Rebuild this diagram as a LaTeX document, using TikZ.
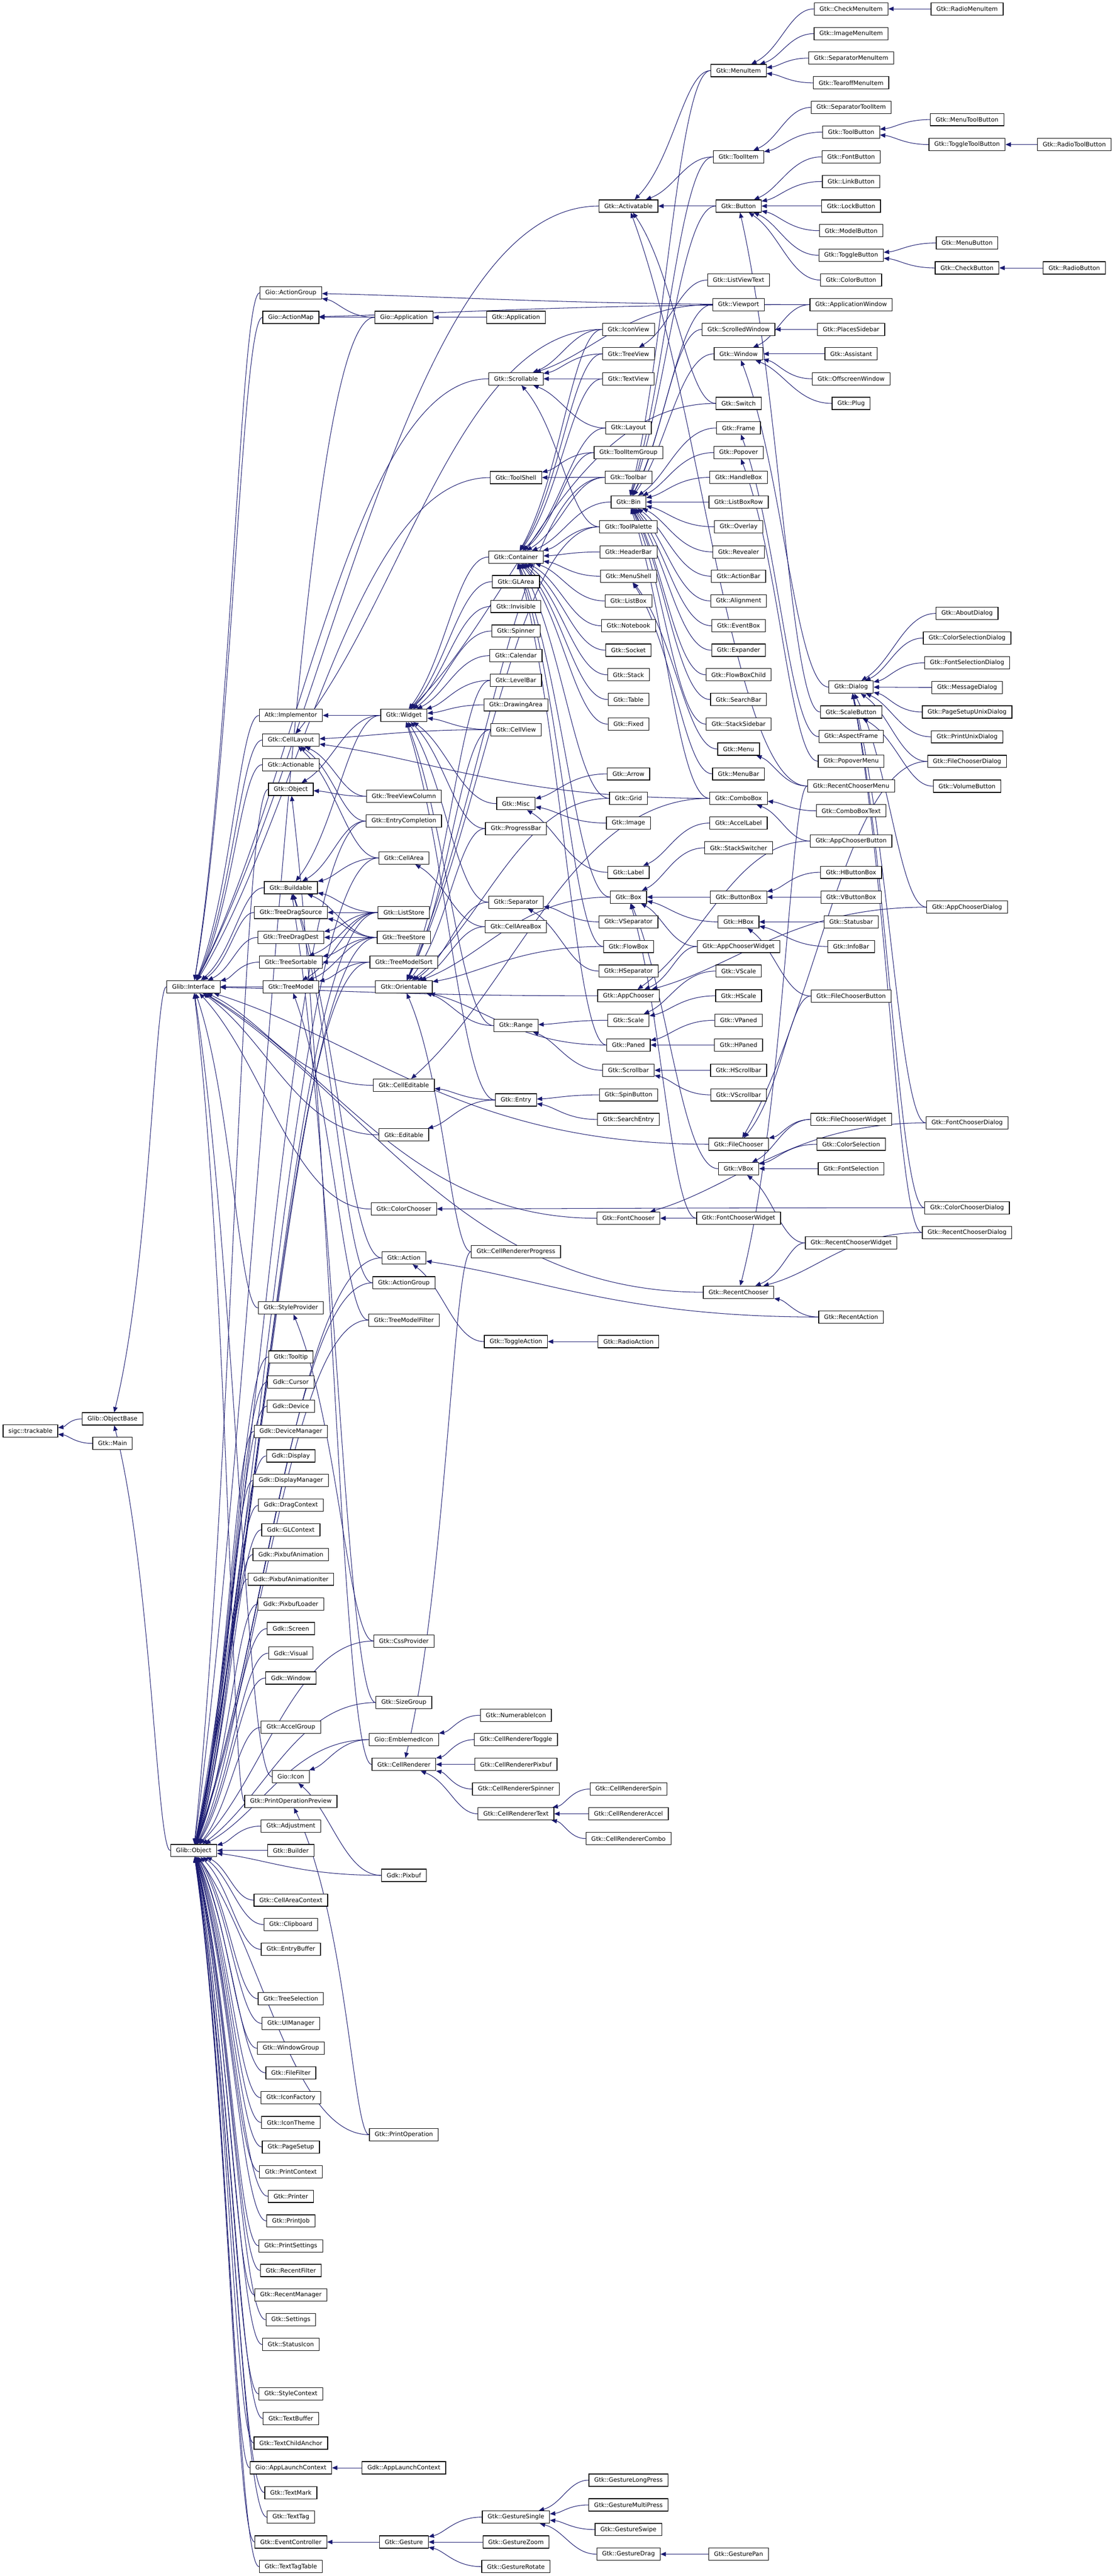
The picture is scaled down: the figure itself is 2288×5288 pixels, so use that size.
\documentclass[tikz,border=0pt]{standalone}
\usepackage{fontspec}
\setmainfont{DejaVu Sans}
\usetikzlibrary{arrows.meta,calc}
\pgfdeclarelayer{bg}
\pgfsetlayers{bg,main}
\definecolor{edgecol}{HTML}{191970}
\tikzset{
  cls/.style={draw=black, line width=1.3pt, fill=white, minimum height=25.3pt,
    inner xsep=11pt, inner ysep=0pt, text=black, font=\fontsize{12.3}{15}\selectfont},
  edge/.style={draw=edgecol, line width=1.1pt, -{Triangle[length=11pt,width=9pt]}}
}
\newcommand\mkN[4]{\node[cls] (#1) at (#2,#3) {#4};}
\newcommand\mkE[2]{\draw[edge] let \p1=(#1.west), \p2=(#2.east) in (#1) .. controls ({0.5*\x1+0.5*\x2},\y1) and ({\x2+0.3*(\x1-\x2)},{\y2+0.35*(\y1-\y2)}) .. (#2);}
\newcommand\mkEs[2]{\foreach \pp in {#2}{\mkE{#1}{\pp}}}
\newcommand\mkEc[2]{\foreach \cc in {#2}{\mkE{\cc}{#1}}}
\begin{document}
\begin{tikzpicture}[x=1pt,y=-1pt]
\useasboundingbox (0,0) rectangle (2288,5288);
% ---------- nodes ----------
\mkN{trackable}{62.5}{2937.8}{sigc::trackable}
\mkN{ObjectBase}{231}{2912.6}{Glib::ObjectBase}
\mkN{Main}{231}{2963}{Gtk::Main}
\mkN{Interface}{397}{2025.6}{Glib::Interface}
\mkN{GObject}{397.5}{3798.7}{Glib::Object}
% col3
\mkN{GioActionGroup}{597}{601.2}{Gio::ActionGroup}
\mkN{ActionMap}{597}{651.4}{Gio::ActionMap}
\mkN{Implementor}{597}{1468.6}{Atk::Implementor}
\mkN{CellLayout}{597}{1519.2}{Gtk::CellLayout}
\mkN{Actionable}{597}{1569.7}{Gtk::Actionable}
\mkN{GtkObject}{597}{1620.2}{Gtk::Object}
\mkN{Buildable}{597}{1822.2}{Gtk::Buildable}
\mkN{TreeDragSource}{597}{1873.1}{Gtk::TreeDragSource}
\mkN{TreeDragDest}{597}{1924.3}{Gtk::TreeDragDest}
\mkN{TreeSortable}{597}{1975.1}{Gtk::TreeSortable}
\mkN{TreeModel}{597}{2025.6}{Gtk::TreeModel}
\mkN{StyleProvider}{597}{2684.9}{Gtk::StyleProvider}
\mkN{Tooltip}{597}{2785.6}{Gtk::Tooltip}
\mkN{Cursor}{597}{2836.8}{Gdk::Cursor}
\mkN{Device}{597}{2886.6}{Gdk::Device}
\mkN{DeviceManager}{597}{2938.2}{Gdk::DeviceManager}
\mkN{Display}{597}{2988.7}{Gdk::Display}
\mkN{DisplayManager}{597}{3038.8}{Gdk::DisplayManager}
\mkN{DragContext}{597}{3090}{Gdk::DragContext}
\mkN{GLContext}{597}{3140.2}{Gdk::GLContext}
\mkN{PixbufAnimation}{597}{3191.1}{Gdk::PixbufAnimation}
\mkN{PixbufAnimationIter}{597}{3241.6}{Gdk::PixbufAnimationIter}
\mkN{PixbufLoader}{597}{3292.6}{Gdk::PixbufLoader}
\mkN{Screen}{597}{3343.1}{Gdk::Screen}
\mkN{Visual}{597}{3393.6}{Gdk::Visual}
\mkN{GdkWindow}{597}{3444.5}{Gdk::Window}
\mkN{AccelGroup}{597}{3545.8}{Gtk::AccelGroup}
\mkN{GioIcon}{597}{3647.2}{Gio::Icon}
\mkN{PrintOperationPreview}{597}{3697.7}{Gtk::PrintOperationPreview}
\mkN{Adjustment}{597}{3748.6}{Gtk::Adjustment}
\mkN{Builder}{597}{3798.7}{Gtk::Builder}
\mkN{CellAreaContext}{597}{3900.5}{Gtk::CellAreaContext}
\mkN{Clipboard}{597}{3950.6}{Gtk::Clipboard}
\mkN{EntryBuffer}{597}{4001.5}{Gtk::EntryBuffer}
\mkN{TreeSelection}{597}{4102.9}{Gtk::TreeSelection}
\mkN{UIManager}{597}{4153.7}{Gtk::UIManager}
\mkN{WindowGroup}{597}{4204.6}{Gtk::WindowGroup}
\mkN{FileFilter}{597}{4255.1}{Gtk::FileFilter}
\mkN{IconFactory}{597}{4306.2}{Gtk::IconFactory}
\mkN{IconTheme}{597}{4357.1}{Gtk::IconTheme}
\mkN{PageSetup}{597}{4407.2}{Gtk::PageSetup}
\mkN{PrintContext}{597}{4458.1}{Gtk::PrintContext}
\mkN{Printer}{597}{4508.6}{Gtk::Printer}
\mkN{PrintJob}{597}{4559.1}{Gtk::PrintJob}
\mkN{PrintSettings}{597}{4610.3}{Gtk::PrintSettings}
\mkN{RecentFilter}{597}{4660.8}{Gtk::RecentFilter}
\mkN{RecentManager}{597}{4711}{Gtk::RecentManager}
\mkN{Settings}{597}{4761.8}{Gtk::Settings}
\mkN{StatusIcon}{597}{4812.7}{Gtk::StatusIcon}
\mkN{StyleContext}{597}{4914.1}{Gtk::StyleContext}
\mkN{TextBuffer}{597}{4964.6}{Gtk::TextBuffer}
\mkN{TextChildAnchor}{597}{5015.1}{Gtk::TextChildAnchor}
\mkN{GioAppLaunchContext}{597}{5065.9}{Gio::AppLaunchContext}
\mkN{TextMark}{597}{5116.8}{Gtk::TextMark}
\mkN{TextTag}{597}{5167}{Gtk::TextTag}
\mkN{EventController}{597}{5218.2}{Gtk::EventController}
\mkN{TextTagTable}{597}{5268.7}{Gtk::TextTagTable}
% col4
\mkN{GioApplication}{829}{651.4}{Gio::Application}
\mkN{Widget}{829}{1468.6}{Gtk::Widget}
\mkN{TreeViewColumn}{829}{1634.6}{Gtk::TreeViewColumn}
\mkN{EntryCompletion}{829}{1685.4}{Gtk::EntryCompletion}
\mkN{CellArea}{829}{1761.2}{Gtk::CellArea}
\mkN{ListStore}{829}{1873.1}{Gtk::ListStore}
\mkN{TreeStore}{829}{1924.3}{Gtk::TreeStore}
\mkN{TreeModelSort}{829}{1975.1}{Gtk::TreeModelSort}
\mkN{Orientable}{829}{2025.6}{Gtk::Orientable}
\mkN{CellEditable}{829}{2227.9}{Gtk::CellEditable}
\mkN{Editable}{829}{2329.6}{Gtk::Editable}
\mkN{ColorChooser}{829}{2481.8}{Gtk::ColorChooser}
\mkN{Action}{829}{2582.1}{Gtk::Action}
\mkN{GtkActionGroup}{829}{2633.3}{Gtk::ActionGroup}
\mkN{TreeModelFilter}{829}{2709.8}{Gtk::TreeModelFilter}
\mkN{CssProvider}{829}{3368.7}{Gtk::CssProvider}
\mkN{SizeGroup}{829}{3495}{Gtk::SizeGroup}
\mkN{EmblemedIcon}{829}{3571.1}{Gio::EmblemedIcon}
\mkN{CellRenderer}{829}{3622}{Gtk::CellRenderer}
\mkN{Pixbuf}{829}{3849.6}{Gdk::Pixbuf}
\mkN{PrintOperation}{829}{4382}{Gtk::PrintOperation}
\mkN{GdkAppLaunchContext}{829}{5065.9}{Gdk::AppLaunchContext}
\mkN{Gesture}{829}{5218.2}{Gtk::Gesture}
% col5
\mkN{GtkApplication}{1059}{651.4}{Gtk::Application}
\mkN{Scrollable}{1059}{777.6}{Gtk::Scrollable}
\mkN{ToolShell}{1059}{980.4}{Gtk::ToolShell}
\mkN{Container}{1059}{1143.5}{Gtk::Container}
\mkN{GLArea}{1059}{1194}{Gtk::GLArea}
\mkN{Invisible}{1059}{1244.9}{Gtk::Invisible}
\mkN{Spinner}{1059}{1295.4}{Gtk::Spinner}
\mkN{Calendar}{1059}{1345.9}{Gtk::Calendar}
\mkN{LevelBar}{1059}{1396.7}{Gtk::LevelBar}
\mkN{DrawingArea}{1059}{1446.9}{Gtk::DrawingArea}
\mkN{CellView}{1059}{1497.8}{Gtk::CellView}
\mkN{Misc}{1059}{1649.6}{Gtk::Misc}
\mkN{ProgressBar}{1059}{1700.8}{Gtk::ProgressBar}
\mkN{Separator}{1059}{1852}{Gtk::Separator}
\mkN{CellAreaBox}{1059}{1902.2}{Gtk::CellAreaBox}
\mkN{Range}{1059}{2105.3}{Gtk::Range}
\mkN{Entry}{1059}{2258}{Gtk::Entry}
\mkN{CellRendererProgress}{1059}{2569.5}{Gtk::CellRendererProgress}
\mkN{ToggleAction}{1059}{2754}{Gtk::ToggleAction}
\mkN{NumerableIcon}{1059}{3521}{Gtk::NumerableIcon}
\mkN{CellRendererToggle}{1059}{3571.1}{Gtk::CellRendererToggle}
\mkN{CellRendererPixbuf}{1059}{3622}{Gtk::CellRendererPixbuf}
\mkN{CellRendererSpinner}{1059}{3672.5}{Gtk::CellRendererSpinner}
\mkN{CellRendererText}{1059}{3723.3}{Gtk::CellRendererText}
\mkN{GestureSingle}{1059}{5167}{Gtk::GestureSingle}
\mkN{GestureZoom}{1059}{5218.2}{Gtk::GestureZoom}
\mkN{GestureRotate}{1059}{5268.7}{Gtk::GestureRotate}
% col6
\mkN{Activatable}{1290}{423}{Gtk::Activatable}
\mkN{IconView}{1290}{676.2}{Gtk::IconView}
\mkN{TreeView}{1290}{726.4}{Gtk::TreeView}
\mkN{TextView}{1290}{777.6}{Gtk::TextView}
\mkN{Layout}{1290}{878.6}{Gtk::Layout}
\mkN{ToolItemGroup}{1290}{929.1}{Gtk::ToolItemGroup}
\mkN{Toolbar}{1290}{980}{Gtk::Toolbar}
\mkN{Bin}{1290}{1030.5}{Gtk::Bin}
\mkN{ToolPalette}{1290}{1081.4}{Gtk::ToolPalette}
\mkN{HeaderBar}{1290}{1133}{Gtk::HeaderBar}
\mkN{MenuShell}{1290}{1182.8}{Gtk::MenuShell}
\mkN{ListBox}{1290}{1233.6}{Gtk::ListBox}
\mkN{Notebook}{1290}{1284.5}{Gtk::Notebook}
\mkN{Socket}{1290}{1334.7}{Gtk::Socket}
\mkN{Stack}{1290}{1385.2}{Gtk::Stack}
\mkN{Table}{1290}{1436}{Gtk::Table}
\mkN{Fixed}{1290}{1486.5}{Gtk::Fixed}
\mkN{Arrow}{1290}{1588.6}{Gtk::Arrow}
\mkN{Grid}{1290}{1638.8}{Gtk::Grid}
\mkN{Image}{1290}{1689.6}{Gtk::Image}
\mkN{Label}{1290}{1790.6}{Gtk::Label}
\mkN{Box}{1290}{1841.5}{Gtk::Box}
\mkN{VSeparator}{1290}{1892.4}{Gtk::VSeparator}
\mkN{FlowBox}{1290}{1942.9}{Gtk::FlowBox}
\mkN{HSeparator}{1290}{1993.4}{Gtk::HSeparator}
\mkN{AppChooser}{1290}{2044.2}{Gtk::AppChooser}
\mkN{Scale}{1290}{2094.4}{Gtk::Scale}
\mkN{Paned}{1290}{2145.2}{Gtk::Paned}
\mkN{Scrollbar}{1290}{2197}{Gtk::Scrollbar}
\mkN{SpinButton}{1290}{2247.5}{Gtk::SpinButton}
\mkN{SearchEntry}{1290}{2298}{Gtk::SearchEntry}
\mkN{FontChooser}{1290}{2500.8}{Gtk::FontChooser}
\mkN{RadioAction}{1290}{2754}{Gtk::RadioAction}
\mkN{CellRendererSpin}{1290}{3672.5}{Gtk::CellRendererSpin}
\mkN{CellRendererAccel}{1290}{3723.3}{Gtk::CellRendererAccel}
\mkN{CellRendererCombo}{1290}{3774.2}{Gtk::CellRendererCombo}
\mkN{GestureLongPress}{1290}{5091.2}{Gtk::GestureLongPress}
\mkN{GestureMultiPress}{1290}{5142}{Gtk::GestureMultiPress}
\mkN{GestureSwipe}{1290}{5192.6}{Gtk::GestureSwipe}
\mkN{GestureDrag}{1290}{5243.1}{Gtk::GestureDrag}
% col7
\mkN{MenuItem}{1516}{144.9}{Gtk::MenuItem}
\mkN{ToolItem}{1516}{322}{Gtk::ToolItem}
\mkN{Button}{1516}{423}{Gtk::Button}
\mkN{ListViewText}{1516}{574.9}{Gtk::ListViewText}
\mkN{Viewport}{1516}{625.4}{Gtk::Viewport}
\mkN{ScrolledWindow}{1516}{676.2}{Gtk::ScrolledWindow}
\mkN{Window}{1516}{726.4}{Gtk::Window}
\mkN{Switch}{1516}{828.1}{Gtk::Switch}
\mkN{Frame}{1516}{878.6}{Gtk::Frame}
\mkN{Popover}{1516}{929.1}{Gtk::Popover}
\mkN{HandleBox}{1516}{980}{Gtk::HandleBox}
\mkN{ListBoxRow}{1516}{1030.5}{Gtk::ListBoxRow}
\mkN{Overlay}{1516}{1081.4}{Gtk::Overlay}
\mkN{Revealer}{1516}{1133}{Gtk::Revealer}
\mkN{ActionBar}{1516}{1182.8}{Gtk::ActionBar}
\mkN{Alignment}{1516}{1233.6}{Gtk::Alignment}
\mkN{EventBox}{1516}{1284.5}{Gtk::EventBox}
\mkN{Expander}{1516}{1334.7}{Gtk::Expander}
\mkN{FlowBoxChild}{1516}{1385.2}{Gtk::FlowBoxChild}
\mkN{SearchBar}{1516}{1436}{Gtk::SearchBar}
\mkN{StackSidebar}{1516}{1486.5}{Gtk::StackSidebar}
\mkN{Menu}{1516}{1537.7}{Gtk::Menu}
\mkN{MenuBar}{1516}{1588.6}{Gtk::MenuBar}
\mkN{ComboBox}{1516}{1638.8}{Gtk::ComboBox}
\mkN{AccelLabel}{1516}{1689.6}{Gtk::AccelLabel}
\mkN{StackSwitcher}{1516}{1740.5}{Gtk::StackSwitcher}
\mkN{ButtonBox}{1516}{1841.5}{Gtk::ButtonBox}
\mkN{HBox}{1516}{1892.4}{Gtk::HBox}
\mkN{AppChooserWidget}{1516}{1942.9}{Gtk::AppChooserWidget}
\mkN{VScale}{1516}{1993.4}{Gtk::VScale}
\mkN{HScale}{1516}{2044.2}{Gtk::HScale}
\mkN{VPaned}{1516}{2094.4}{Gtk::VPaned}
\mkN{HPaned}{1516}{2145.2}{Gtk::HPaned}
\mkN{HScrollbar}{1516}{2197}{Gtk::HScrollbar}
\mkN{VScrollbar}{1516}{2247.5}{Gtk::VScrollbar}
\mkN{FileChooser}{1516}{2348.9}{Gtk::FileChooser}
\mkN{VBox}{1516}{2399}{Gtk::VBox}
\mkN{FontChooserWidget}{1516}{2500.8}{Gtk::FontChooserWidget}
\mkN{RecentChooser}{1516}{2652.6}{Gtk::RecentChooser}
\mkN{GesturePan}{1516}{5243.1}{Gtk::GesturePan}
% col8
\mkN{CheckMenuItem}{1747}{18.2}{Gtk::CheckMenuItem}
\mkN{ImageMenuItem}{1747}{69.1}{Gtk::ImageMenuItem}
\mkN{SeparatorMenuItem}{1747}{119.3}{Gtk::SeparatorMenuItem}
\mkN{TearoffMenuItem}{1747}{170.1}{Gtk::TearoffMenuItem}
\mkN{SeparatorToolItem}{1747}{220.6}{Gtk::SeparatorToolItem}
\mkN{ToolButton}{1747}{271.1}{Gtk::ToolButton}
\mkN{FontButton}{1747}{322}{Gtk::FontButton}
\mkN{LinkButton}{1747}{372.5}{Gtk::LinkButton}
\mkN{LockButton}{1747}{423}{Gtk::LockButton}
\mkN{ModelButton}{1747}{473.5}{Gtk::ModelButton}
\mkN{ToggleButton}{1747}{524}{Gtk::ToggleButton}
\mkN{ColorButton}{1747}{574.9}{Gtk::ColorButton}
\mkN{ApplicationWindow}{1747}{625.4}{Gtk::ApplicationWindow}
\mkN{PlacesSidebar}{1747}{676.2}{Gtk::PlacesSidebar}
\mkN{Assistant}{1747}{726.4}{Gtk::Assistant}
\mkN{OffscreenWindow}{1747}{777.6}{Gtk::OffscreenWindow}
\mkN{Plug}{1747}{828.1}{Gtk::Plug}
\mkN{Dialog}{1747}{1410.4}{Gtk::Dialog}
\mkN{ScaleButton}{1747}{1461.6}{Gtk::ScaleButton}
\mkN{AspectFrame}{1747}{1512.1}{Gtk::AspectFrame}
\mkN{PopoverMenu}{1747}{1562.6}{Gtk::PopoverMenu}
\mkN{RecentChooserMenu}{1747}{1613.5}{Gtk::RecentChooserMenu}
\mkN{ComboBoxText}{1747}{1664.4}{Gtk::ComboBoxText}
\mkN{AppChooserButton}{1747}{1726.5}{Gtk::AppChooserButton}
\mkN{HButtonBox}{1747}{1790.6}{Gtk::HButtonBox}
\mkN{VButtonBox}{1747}{1841.5}{Gtk::VButtonBox}
\mkN{Statusbar}{1747}{1892.4}{Gtk::Statusbar}
\mkN{InfoBar}{1747}{1942.9}{Gtk::InfoBar}
\mkN{FileChooserButton}{1747}{2044.6}{Gtk::FileChooserButton}
\mkN{FileChooserWidget}{1747}{2298}{Gtk::FileChooserWidget}
\mkN{ColorSelection}{1747}{2348.9}{Gtk::ColorSelection}
\mkN{FontSelection}{1747}{2399}{Gtk::FontSelection}
\mkN{RecentChooserWidget}{1747}{2551.3}{Gtk::RecentChooserWidget}
\mkN{RecentAction}{1747}{2703.5}{Gtk::RecentAction}
% col9
\mkN{RadioMenuItem}{1985}{18.2}{Gtk::RadioMenuItem}
\mkN{MenuToolButton}{1985}{245.5}{Gtk::MenuToolButton}
\mkN{ToggleToolButton}{1985}{296.7}{Gtk::ToggleToolButton}
\mkN{MenuButton}{1985}{498.8}{Gtk::MenuButton}
\mkN{CheckButton}{1985}{550}{Gtk::CheckButton}
\mkN{AboutDialog}{1985}{1259.2}{Gtk::AboutDialog}
\mkN{ColorSelectionDialog}{1985}{1309.8}{Gtk::ColorSelectionDialog}
\mkN{FontSelectionDialog}{1985}{1360.6}{Gtk::FontSelectionDialog}
\mkN{MessageDialog}{1985}{1411.1}{Gtk::MessageDialog}
\mkN{PageSetupUnixDialog}{1985}{1461.6}{Gtk::PageSetupUnixDialog}
\mkN{PrintUnixDialog}{1985}{1512.5}{Gtk::PrintUnixDialog}
\mkN{FileChooserDialog}{1985}{1563}{Gtk::FileChooserDialog}
\mkN{VolumeButton}{1985}{1613.9}{Gtk::VolumeButton}
\mkN{AppChooserDialog}{1985}{1862.2}{Gtk::AppChooserDialog}
\mkN{FontChooserDialog}{1985}{2305}{Gtk::FontChooserDialog}
\mkN{ColorChooserDialog}{1985}{2479.4}{Gtk::ColorChooserDialog}
\mkN{RecentChooserDialog}{1985}{2530.2}{Gtk::RecentChooserDialog}
% col10
\mkN{RadioToolButton}{2205}{296.7}{Gtk::RadioToolButton}
\mkN{RadioButton}{2205}{550}{Gtk::RadioButton}
% ---------- edges ----------
\begin{pgfonlayer}{bg}
\fill[white] (0,0) rectangle (2288,5288);
\mkEc{trackable}{ObjectBase,Main}
\mkEc{ObjectBase}{Interface,GObject}
\mkEc{Interface}{GioActionGroup,ActionMap,Scrollable,ToolShell,Activatable,Implementor,CellLayout,Actionable,Buildable,TreeDragSource,TreeDragDest,TreeSortable,TreeModel,Orientable,CellEditable,Editable,ColorChooser,StyleProvider,AppChooser,FileChooser,FontChooser,RecentChooser,GioIcon,PrintOperationPreview}
\mkEc{GObject}{GtkObject,GioApplication,EntryCompletion,CellArea,ListStore,TreeStore,TreeModelSort,TreeModelFilter,Action,GtkActionGroup,CssProvider,SizeGroup,EmblemedIcon,Pixbuf,PrintOperation,Tooltip,Cursor,Device,DeviceManager,Display,DisplayManager,DragContext,GLContext,PixbufAnimation,PixbufAnimationIter,PixbufLoader,Screen,Visual,GdkWindow,AccelGroup,Adjustment,Builder,CellAreaContext,Clipboard,EntryBuffer,TreeSelection,UIManager,WindowGroup,FileFilter,IconFactory,IconTheme,PageSetup,PrintContext,Printer,PrintJob,PrintSettings,RecentFilter,RecentManager,Settings,StatusIcon,StyleContext,TextBuffer,TextChildAnchor,GioAppLaunchContext,TextMark,TextTag,EventController,TextTagTable}
\mkEs{GioApplication}{GioActionGroup,ActionMap}
\mkE{GtkApplication}{GioApplication}
\mkEs{ApplicationWindow}{Window,GioActionGroup,ActionMap}
\mkEc{GtkObject}{Widget,TreeViewColumn,CellRenderer}
\mkEs{Widget}{Implementor,Buildable}
\mkE{TreeViewColumn}{CellLayout}
\mkEs{EntryCompletion}{Buildable,CellLayout}
\mkEs{CellArea}{Buildable,CellLayout}
\mkEs{ListStore}{Buildable,TreeModel,TreeSortable,TreeDragSource,TreeDragDest}
\mkEs{TreeStore}{Buildable,TreeModel,TreeSortable,TreeDragSource,TreeDragDest}
\mkEs{TreeModelSort}{TreeModel,TreeSortable}
\mkE{TreeModelFilter}{TreeModel}
\mkEs{Action}{Buildable}
\mkEs{GtkActionGroup}{Buildable}
\mkEs{SizeGroup}{Buildable}
\mkEs{CellAreaBox}{CellArea,Orientable}
\mkEc{Widget}{Container,GLArea,Invisible,Spinner,Calendar,LevelBar,DrawingArea,CellView,Misc,ProgressBar,Separator,Range,Entry,Switch}
\mkEc{Orientable}{LevelBar,ProgressBar,CellView,Separator,Range,Toolbar,ToolPalette,Grid,Box,FlowBox,Paned,CellRendererProgress}
\mkE{CellView}{CellLayout}
\mkEs{Entry}{Editable,CellEditable}
\mkE{Switch}{Activatable}
\mkEc{Container}{Bin,IconView,TreeView,TextView,Layout,ToolItemGroup,Toolbar,ToolPalette,HeaderBar,MenuShell,ListBox,Notebook,Socket,Stack,Table,Fixed,Grid,Box,FlowBox,Paned}
\mkEs{IconView}{CellLayout,Scrollable}
\mkEc{Scrollable}{TreeView,TextView,Layout,ToolPalette,Viewport}
\mkEc{ToolShell}{ToolItemGroup,Toolbar}
\mkEc{Bin}{MenuItem,ToolItem,Button,Viewport,ScrolledWindow,Window,Frame,Popover,HandleBox,ListBoxRow,Overlay,Revealer,ActionBar,Alignment,EventBox,Expander,FlowBoxChild,SearchBar,StackSidebar,ComboBox}
\mkEc{Activatable}{MenuItem,ToolItem,Button,RecentChooserMenu}
\mkEs{ComboBox}{CellLayout,CellEditable}
\mkEc{MenuItem}{CheckMenuItem,ImageMenuItem,SeparatorMenuItem,TearoffMenuItem}
\mkE{RadioMenuItem}{CheckMenuItem}
\mkEc{ToolItem}{SeparatorToolItem,ToolButton}
\mkEc{ToolButton}{MenuToolButton,ToggleToolButton}
\mkE{RadioToolButton}{ToggleToolButton}
\mkEc{Button}{FontButton,LinkButton,LockButton,ModelButton,ToggleButton,ColorButton,ScaleButton}
\mkEc{ToggleButton}{MenuButton,CheckButton}
\mkE{RadioButton}{CheckButton}
\mkE{VolumeButton}{ScaleButton}
\mkE{ListViewText}{TreeView}
\mkE{PlacesSidebar}{ScrolledWindow}
\mkEc{Window}{Assistant,OffscreenWindow,Plug,Dialog}
\mkEc{Dialog}{AboutDialog,ColorSelectionDialog,FontSelectionDialog,MessageDialog,PageSetupUnixDialog,PrintUnixDialog,FileChooserDialog,AppChooserDialog,FontChooserDialog,ColorChooserDialog,RecentChooserDialog}
\mkE{FileChooserDialog}{FileChooser}
\mkE{AppChooserDialog}{AppChooser}
\mkE{FontChooserDialog}{FontChooser}
\mkE{ColorChooserDialog}{ColorChooser}
\mkE{RecentChooserDialog}{RecentChooser}
\mkE{AspectFrame}{Frame}
\mkE{PopoverMenu}{Popover}
\mkEc{MenuShell}{Menu,MenuBar}
\mkEs{RecentChooserMenu}{Menu,RecentChooser}
\mkEc{ComboBox}{ComboBoxText,AppChooserButton}
\mkE{AppChooserButton}{AppChooser}
\mkEc{Misc}{Arrow,Image,Label}
\mkE{AccelLabel}{Label}
\mkEc{Box}{StackSwitcher,ButtonBox,HBox,VBox,AppChooserWidget,FontChooserWidget}
\mkE{AppChooserWidget}{AppChooser}
\mkE{FontChooserWidget}{FontChooser}
\mkEc{ButtonBox}{HButtonBox,VButtonBox}
\mkEc{HBox}{Statusbar,InfoBar,FileChooserButton}
\mkE{FileChooserButton}{FileChooser}
\mkEc{Separator}{VSeparator,HSeparator}
\mkEc{Range}{Scale,Scrollbar}
\mkEc{Scale}{VScale,HScale}
\mkEc{Paned}{VPaned,HPaned}
\mkEc{Scrollbar}{HScrollbar,VScrollbar}
\mkEc{Entry}{SpinButton,SearchEntry}
\mkEc{VBox}{FileChooserWidget,ColorSelection,FontSelection,RecentChooserWidget}
\mkE{FileChooserWidget}{FileChooser}
\mkE{RecentChooserWidget}{RecentChooser}
\mkEs{RecentAction}{Action,RecentChooser}
\mkE{ToggleAction}{Action}
\mkE{RadioAction}{ToggleAction}
\mkEc{CellRenderer}{CellRendererProgress,CellRendererToggle,CellRendererPixbuf,CellRendererSpinner,CellRendererText}
\mkEc{CellRendererText}{CellRendererSpin,CellRendererAccel,CellRendererCombo}
\mkE{CssProvider}{StyleProvider}
\mkE{EmblemedIcon}{GioIcon}
\mkE{NumerableIcon}{EmblemedIcon}
\mkE{Pixbuf}{GioIcon}
\mkE{PrintOperation}{PrintOperationPreview}
\mkE{GdkAppLaunchContext}{GioAppLaunchContext}
\mkE{Gesture}{EventController}
\mkEc{Gesture}{GestureSingle,GestureZoom,GestureRotate}
\mkEc{GestureSingle}{GestureLongPress,GestureMultiPress,GestureSwipe,GestureDrag}
\mkE{GesturePan}{GestureDrag}
\end{pgfonlayer}
\end{tikzpicture}
\end{document}
